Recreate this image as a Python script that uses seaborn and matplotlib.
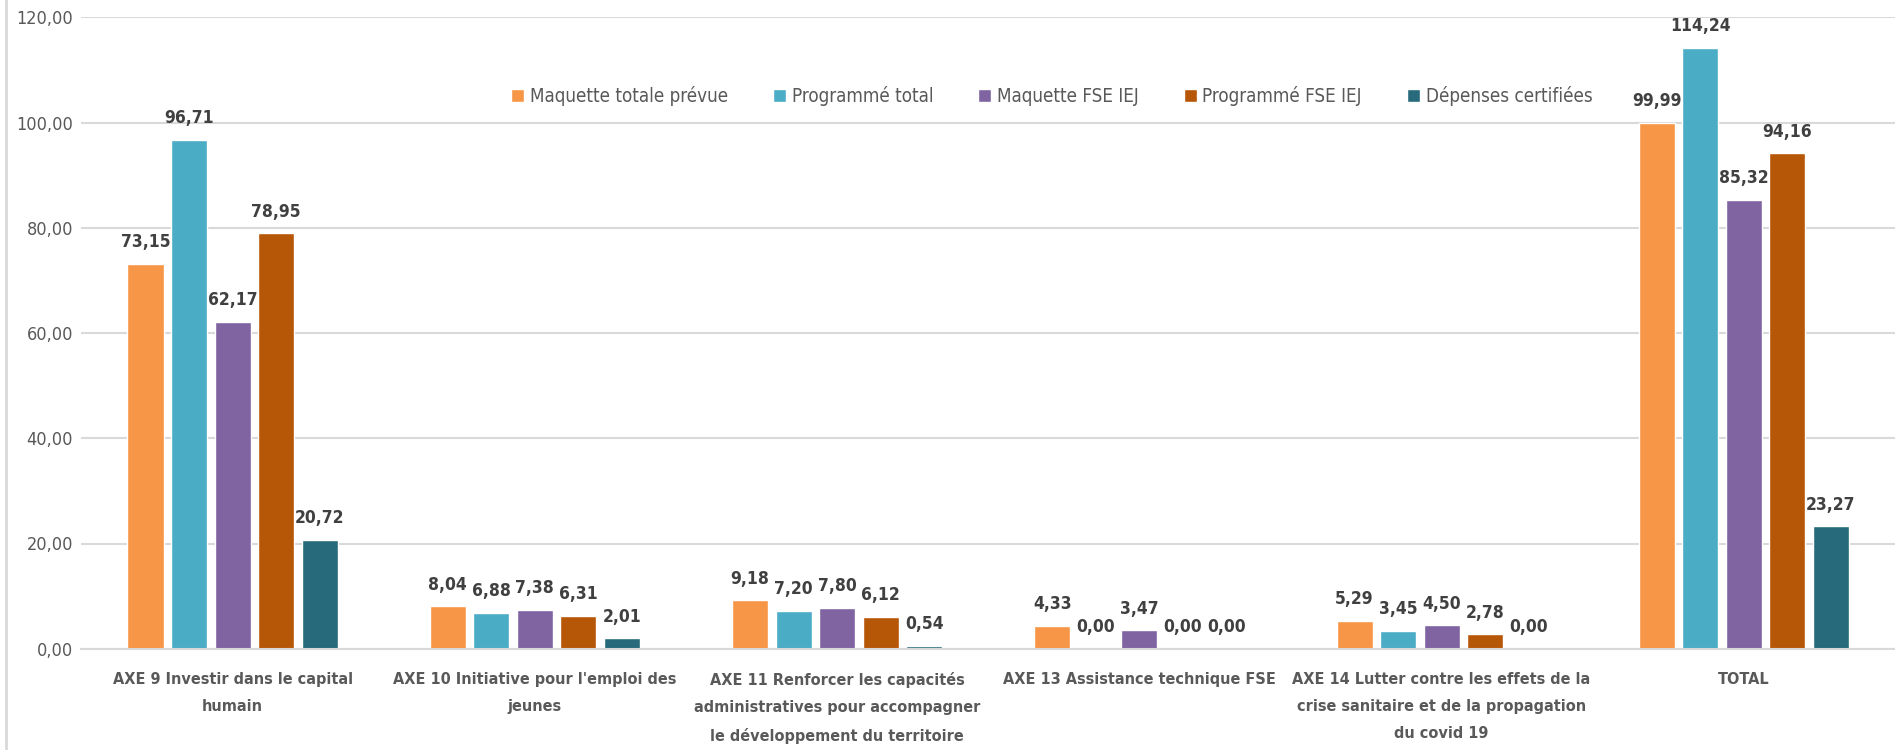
import matplotlib
matplotlib.use("Agg")
import matplotlib.pyplot as plt
import matplotlib.ticker as mticker
import pandas as pd
import seaborn as sns

# --- data ---
categories = [
    "AXE 9 Investir dans le capital\nhumain",
    "AXE 10 Initiative pour l'emploi des\njeunes",
    "AXE 11 Renforcer les capacités\nadministratives pour accompagner\nle développement du territoire",
    "AXE 13 Assistance technique FSE",
    "AXE 14 Lutter contre les effets de la\ncrise sanitaire et de la propagation\ndu covid 19",
    "TOTAL",
]
series_names = [
    "Maquette totale prévue",
    "Programmé total",
    "Maquette FSE IEJ",
    "Programmé FSE IEJ",
    "Dépenses certifiées",
]
maquette_totale = [73.15, 8.04, 9.18, 4.33, 5.29, 99.99]
programme_total = [96.71, 6.88, 7.20, 0.00, 3.45, 114.24]
maquette_fse = [62.17, 7.38, 7.80, 3.47, 4.50, 85.32]
programme_fse = [78.95, 6.31, 6.12, 0.00, 2.78, 94.16]
depenses = [20.72, 2.01, 0.54, 0.00, 0.00, 23.27]
colors = ["#F79646", "#4BACC6", "#8064A2", "#B65708", "#276A7C"]

all_values = [maquette_totale, programme_total, maquette_fse, programme_fse, depenses]
rows = []
for name, vals in zip(series_names, all_values):
    for cat, v in zip(categories, vals):
        rows.append({"axe": cat, "serie": name, "valeur": v})
df = pd.DataFrame(rows)

sns.set_style("white")
# condensed face to get close to the narrow Calibri look
plt.rcParams["font.family"] = ["DejaVu Sans"]
plt.rcParams["font.stretch"] = "condensed"

fig = plt.figure(figsize=(18.95, 7.5), dpi=100)
ax = fig.add_axes([0.043, 0.135, 0.957, 0.842])

sns.barplot(
    data=df, x="axe", y="valeur", hue="serie",
    order=categories, hue_order=series_names,
    palette=colors, width=0.72, gap=0.17,
    saturation=1, ax=ax, legend=True,
)

# data labels with French decimal comma
for cont in ax.containers:
    labels = [f"{b.get_height():.2f}".replace(".", ",") for b in cont]
    ax.bar_label(cont, labels=labels, padding=9, fontsize=12.5,
                 fontweight="bold", color="#404040")

ax.set_ylim(0, 120)
ax.set_xlim(-0.5, 5.5)
ax.yaxis.set_major_locator(mticker.MultipleLocator(20))
ax.yaxis.set_major_formatter(
    mticker.FuncFormatter(lambda v, p: f"{v:.2f}".replace(".", ",")))
ax.grid(axis="y", color="#D9D9D9", linewidth=1.5)
ax.set_axisbelow(True)
for s in ["top", "right", "left"]:
    ax.spines[s].set_visible(False)
ax.spines["bottom"].set_color("#D9D9D9")
ax.spines["bottom"].set_linewidth(1.5)

ax.set_xlabel("")
ax.set_ylabel("")
ax.tick_params(axis="y", labelsize=13, labelcolor="#595959", length=0, pad=6)
ax.tick_params(axis="x", labelsize=11.6, labelcolor="#595959", length=0, pad=17)
for t in ax.get_xticklabels():
    t.set_fontweight("bold")
    t.set_linespacing(2.0)

ax.legend(
    loc="center", bbox_to_anchor=(0.535, 0.875), ncol=5, frameon=False,
    fontsize=13.5, labelcolor="#595959", handlelength=0.7, handleheight=0.7,
    columnspacing=2.4, handletextpad=0.3,
)

# thin frame line on the left edge like the source image
fig.add_artist(plt.Line2D([0.003, 0.003], [0, 1], color="#D9D9D9", linewidth=2))

fig.savefig("out.png", dpi=100)
